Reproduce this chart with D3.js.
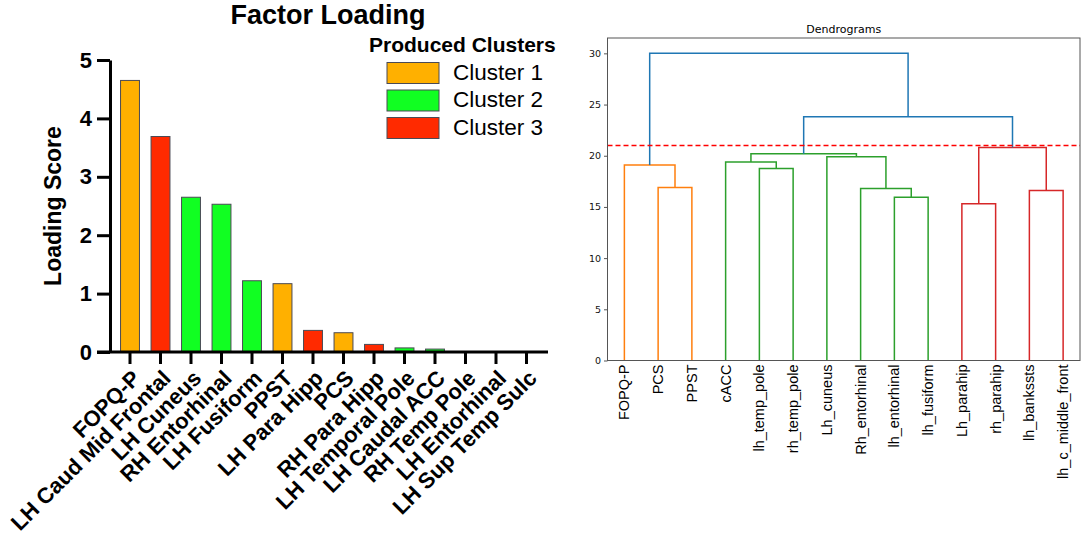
<!DOCTYPE html>
<html>
<head>
<meta charset="utf-8">
<script src="https://cdn.jsdelivr.net/npm/d3@7"></script>
<style>
	body { margin: 0; background: #fff; }
	svg { display: block; font-family: "Liberation Sans", Arial, sans-serif; }
</style>
</head>
<body>
<svg id="chart" width="1084" height="538"></svg>
<script>
	// left panel: factor loading bars
	const loadingLabels = [ 'FOPQ-P', 'LH Caud Mid Frontal', 'LH Cuneus', 'RH Entorhinal', 'LH Fusiform', 'PPST',
		'LH Para Hipp', 'PCS', 'RH Para Hipp', 'LH Temporal Pole', 'LH Caudal ACC', 'RH Temp Pole',
		'LH Entorhinal', 'LH Sup Temp Sulc' ];
	const loadingValues = [ 4.65, 3.69, 2.65, 2.53, 1.22, 1.17, 0.37, 0.33, 0.13, 0.07, 0.05, 0, 0, 0 ];
	const loadingClusters = [ 1, 3, 2, 2, 2, 1, 3, 1, 3, 2, 2, 2, 2, 3 ];
	const loadingTicks = [ 0, 1, 2, 3, 4, 5 ];
	const clusterNames = [ 'Cluster 1', 'Cluster 2', 'Cluster 3' ];
	const clusterColors = [ '#FFB000', '#11FF22', '#FF2A00' ];

	// right panel: dendrogram (scipy style linkage, node ids start after leaves)
	const dendroLeaves = [ 'FOPQ-P', 'PCS', 'PPST', 'cACC', 'lh_temp_pole', 'rh_temp_pole', 'Lh_cuneus',
		'Rh_entorhinal', 'lh_entorhinal', 'lh_fusiform', 'Lh_parahip', 'rh_parahip', 'lh_bankssts',
		'lh_c_middle_front' ];
	const dendroLinks = [
		[ 1, 2, 16.9, 'orange' ],
		[ 0, 14, 19.1, 'orange' ],
		[ 4, 5, 18.75, 'green' ],
		[ 3, 16, 19.4, 'green' ],
		[ 8, 9, 15.95, 'green' ],
		[ 7, 18, 16.8, 'green' ],
		[ 6, 19, 19.9, 'green' ],
		[ 17, 20, 20.2, 'green' ],
		[ 10, 11, 15.3, 'red' ],
		[ 12, 13, 16.6, 'red' ],
		[ 22, 23, 20.8, 'red' ],
		[ 21, 24, 23.8, 'blue' ],
		[ 15, 25, 30.0, 'blue' ]
	];
	const dendroTicks = [ 0, 5, 10, 15, 20, 25, 30 ];
	const cutHeight = 21;
	const linkColors = { orange: '#ff7f0e', green: '#2ca02c', red: '#d62728', blue: '#1f77b4' };

	let svg = d3.select( '#chart' );

	function drawLoading() {
		let left = 110, top = 60, bottom = 352,
			x = d3.scaleBand().domain( loadingLabels ).range( [ 114.75, 541.75 ] ).paddingInner( 0.38 ).paddingOuter( 0.19 ),
			y = d3.scaleLinear().domain( [ 0, 5 ] ).range( [ bottom, top ] ),
			g = svg.append( 'g' ).attr( 'id', 'loading' );

		g.append( 'text' )
			.attr( 'x', 328 ).attr( 'y', 24 )
			.attr( 'text-anchor', 'middle' )
			.style( 'font-size', '27px' ).style( 'font-weight', 'bold' )
			.text( 'Factor Loading' );

		g.selectAll( 'rect.bar' ).data( loadingValues )
			.enter().append( 'rect' )
			.attr( 'class', 'bar' )
			.attr( 'x', ( d, i ) => x( loadingLabels[ i ] ) )
			.attr( 'y', d => y( d ) )
			.attr( 'width', x.bandwidth() )
			.attr( 'height', d => bottom - y( d ) )
			.attr( 'fill', ( d, i ) => clusterColors[ loadingClusters[ i ] - 1 ] )
			.attr( 'stroke', '#4a4a55' )
			.attr( 'stroke-width', 1 );

		let yAxis = g.append( 'g' )
			.attr( 'transform', 'translate(' + left + ',0)' )
			.call( d3.axisLeft( y ).tickValues( loadingTicks ).tickFormat( d3.format( 'd' ) )
				.tickSize( 13 ).tickSizeOuter( 0 ).tickPadding( 5 ) );
		yAxis.selectAll( 'text' ).style( 'font-size', '22px' ).style( 'font-weight', 'bold' )
			.style( 'font-family', '"Liberation Sans", Arial, sans-serif' ).attr( 'fill', '#000' );

		let xAxis = g.append( 'g' )
			.attr( 'transform', 'translate(0,' + bottom + ')' )
			.call( d3.axisBottom( x ).tickSize( 12 ).tickSizeOuter( 0 ).tickFormat( '' ) );
		xAxis.select( '.domain' ).remove();

		g.selectAll( '.tick line' ).attr( 'stroke', '#000' ).attr( 'stroke-width', 3 );
		yAxis.select( '.domain' ).attr( 'stroke', '#000' ).attr( 'stroke-width', 3 );

		g.append( 'line' )
			.attr( 'x1', left - 13 ).attr( 'x2', 548 )
			.attr( 'y1', bottom ).attr( 'y2', bottom )
			.attr( 'stroke', '#000' ).attr( 'stroke-width', 3 );

		g.selectAll( 'text.xlab' ).data( loadingLabels )
			.enter().append( 'text' )
			.attr( 'class', 'xlab' )
			.attr( 'transform', d => 'translate(' + ( x( d ) + x.bandwidth() / 2 + 3 ) + ',' + ( bottom + 19 ) + ') rotate(-45)' )
			.attr( 'text-anchor', 'end' )
			.attr( 'dy', '0.55em' )
			.style( 'font-size', '22px' ).style( 'font-weight', 'bold' )
			.text( d => d );

		g.append( 'text' )
			.attr( 'transform', 'translate(61,206) rotate(-90)' )
			.attr( 'text-anchor', 'middle' )
			.style( 'font-size', '23px' ).style( 'font-weight', 'bold' )
			.text( 'Loading Score' );

		// legend
		let legend = g.append( 'g' ).attr( 'id', 'legend' );
		legend.append( 'text' )
			.attr( 'x', 369 ).attr( 'y', 52 )
			.style( 'font-size', '21px' ).style( 'font-weight', 'bold' )
			.text( 'Produced Clusters' );
		let items = legend.selectAll( 'g.item' ).data( clusterNames )
			.enter().append( 'g' )
			.attr( 'class', 'item' )
			.attr( 'transform', ( d, i ) => 'translate(387,' + ( 62.5 + i * 27.5 ) + ')' );
		items.append( 'rect' )
			.attr( 'width', 52 ).attr( 'height', 21 )
			.attr( 'fill', ( d, i ) => clusterColors[ i ] )
			.attr( 'stroke', '#4a4a55' ).attr( 'stroke-width', 1 );
		items.append( 'text' )
			.attr( 'x', 66 ).attr( 'y', 17 )
			.style( 'font-size', '22.5px' )
			.text( d => d );
	}

	function drawDendrogram() {
		let left = 607.5, right = 1080, top = 38, bottom = 360.5,
			x = d3.scaleLinear().domain( [ 0, dendroLeaves.length * 10 ] ).range( [ left, right ] ),
			y = d3.scaleLinear().domain( [ 0, 31.5 ] ).range( [ bottom, top ] ),
			g = svg.append( 'g' ).attr( 'id', 'dendro' ),
			nodes = dendroLeaves.map( ( d, i ) => ( { x: 5 + i * 10, h: 0 } ) );

		dendroLinks.forEach( l => {
			nodes.push( { x: ( nodes[ l[ 0 ] ].x + nodes[ l[ 1 ] ].x ) / 2, h: l[ 2 ] } );
		} );

		g.append( 'text' )
			.attr( 'x', ( left + right ) / 2 ).attr( 'y', 33 )
			.attr( 'text-anchor', 'middle' )
			.style( 'font-family', '"DejaVu Sans", sans-serif' ).style( 'font-size', '11px' )
			.text( 'Dendrograms' );

		g.selectAll( 'path.link' ).data( dendroLinks )
			.enter().append( 'path' )
			.attr( 'class', 'link' )
			.attr( 'd', l => {
				let a = nodes[ l[ 0 ] ], b = nodes[ l[ 1 ] ];
				return 'M' + x( a.x ) + ',' + y( a.h ) + 'V' + y( l[ 2 ] ) + 'H' + x( b.x ) + 'V' + y( b.h );
			} )
			.attr( 'fill', 'none' )
			.attr( 'stroke', l => linkColors[ l[ 3 ] ] )
			.attr( 'stroke-width', 1.5 );

		g.append( 'line' )
			.attr( 'x1', left ).attr( 'x2', right )
			.attr( 'y1', y( cutHeight ) ).attr( 'y2', y( cutHeight ) )
			.attr( 'stroke', '#ff0000' ).attr( 'stroke-width', 1.5 )
			.attr( 'stroke-dasharray', '5,3' );

		g.append( 'rect' )
			.attr( 'x', left ).attr( 'y', top )
			.attr( 'width', right - left ).attr( 'height', bottom - top )
			.attr( 'fill', 'none' ).attr( 'stroke', '#555' ).attr( 'stroke-width', 1 );

		let yAxis = g.append( 'g' )
			.attr( 'transform', 'translate(' + left + ',0)' )
			.call( d3.axisLeft( y ).tickValues( dendroTicks ).tickSize( 3.5 ).tickPadding( 3 ) );
		yAxis.select( '.domain' ).remove();
		yAxis.selectAll( 'line' ).attr( 'stroke', '#555' );
		yAxis.selectAll( 'text' ).style( 'font-family', '"DejaVu Sans", sans-serif' ).style( 'font-size', '9.5px' ).attr( 'fill', '#111' );

		g.selectAll( 'text.leaf' ).data( dendroLeaves )
			.enter().append( 'text' )
			.attr( 'class', 'leaf' )
			.attr( 'transform', ( d, i ) => 'translate(' + x( nodes[ i ].x ) + ',' + ( bottom + 4 ) + ') rotate(-90)' )
			.attr( 'text-anchor', 'end' )
			.attr( 'dy', '0.35em' )
			.style( 'font-size', '14.5px' )
			.text( d => d );
	}

	drawLoading();
	drawDendrogram();
</script>
</body>
</html>
